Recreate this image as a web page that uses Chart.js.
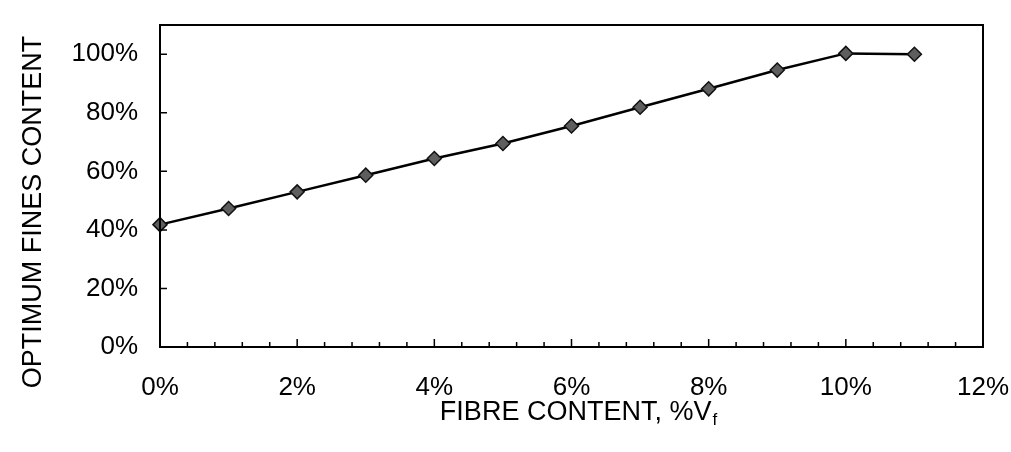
<!DOCTYPE html>
<html>
<head>
<meta charset="utf-8">
<script src="https://cdn.jsdelivr.net/npm/chart.js@4"></script>
<style>
  html, body { margin: 0; padding: 0; background: #fff; }
  #wrap { width: 1011px; height: 452px; position: relative; }
</style>
</head>
<body>
<div id="wrap"><canvas id="finesChart"></canvas></div>
<script>
// fibre content (% Vf) and optimum fines content (%)
const fibreContent = [0, 1, 2, 3, 4, 5, 6, 7, 8, 9, 10, 11];
const finesContent = [41.8, 47.3, 53.0, 58.7, 64.4, 69.5, 75.5, 81.9, 88.2, 94.6, 100.3, 100.0];
const yTicks = [0, 20, 40, 60, 80, 100];
const xTicks = [0, 2, 4, 6, 8, 10, 12];

const FONT = "'Liberation Sans', Arial, sans-serif";

function noEdgePadding(scale) {
  scale.paddingTop = 0;
  scale.paddingBottom = 0;
  scale.paddingLeft = 0;
  scale.paddingRight = 0;
}

// box round the plot, inward tick marks and both axis titles
const frameAndTicks = {
  id: "frameAndTicks",
  afterDraw(chart) {
    const ctx = chart.ctx;
    const area = chart.chartArea;
    const x = chart.scales.x;
    const y = chart.scales.y;
    ctx.save();
    ctx.strokeStyle = "#000";
    ctx.lineWidth = 2;
    ctx.strokeRect(area.left, area.top, area.right - area.left, area.bottom - area.top);

    ctx.lineWidth = 1.5;
    ctx.beginPath();
    for (let i = 0; i <= 30; i++) {
      const v = i * 0.4;
      const px = x.getPixelForValue(v);
      const len = i % 5 === 0 ? 8 : 5;
      ctx.moveTo(px, area.bottom);
      ctx.lineTo(px, area.bottom - len);
    }
    yTicks.forEach((v) => {
      const py = y.getPixelForValue(v);
      ctx.moveTo(area.left, py);
      ctx.lineTo(area.left + 7, py);
    });
    ctx.stroke();

    ctx.fillStyle = "#000";

    // y axis title
    ctx.save();
    ctx.translate(34, 212);
    ctx.rotate(-Math.PI / 2);
    ctx.font = "27px " + FONT;
    ctx.textAlign = "center";
    ctx.textBaseline = "middle";
    ctx.fillText("OPTIMUM FINES CONTENT", 0, 0);
    ctx.restore();

    // x axis title with subscript f
    ctx.textBaseline = "alphabetic";
    ctx.textAlign = "left";
    const main = "FIBRE CONTENT, %V";
    const sub = "f";
    ctx.font = "27px " + FONT;
    const w1 = ctx.measureText(main).width;
    ctx.font = "17px " + FONT;
    const w2 = ctx.measureText(sub).width;
    const startX = 578 - (w1 + w2) / 2;
    ctx.font = "27px " + FONT;
    ctx.fillText(main, startX, 420);
    ctx.font = "17px " + FONT;
    ctx.fillText(sub, startX + w1 + 1, 425);
    ctx.restore();
  },
};

const ctx = document.getElementById("finesChart").getContext("2d");
new Chart(ctx, {
  type: "line",
  data: {
    datasets: [
      {
        label: "Optimum fines content",
        data: fibreContent.map((f, i) => ({ x: f, y: finesContent[i] })),
        borderColor: "#000",
        borderWidth: 2.5,
        backgroundColor: "#5e5e5e",
        pointStyle: "rectRot",
        pointRadius: 7,
        pointBorderColor: "#111",
        pointBorderWidth: 1.5,
        pointBackgroundColor: "#5e5e5e",
        tension: 0,
        clip: false,
      },
    ],
  },
  options: {
    responsive: true,
    maintainAspectRatio: false,
    animation: false,
    layout: {
      padding: { left: 0, top: 25, right: 28, bottom: 0 },
    },
    plugins: {
      legend: { display: false },
      tooltip: { enabled: false },
    },
    scales: {
      x: {
        type: "linear",
        min: 0,
        max: 12,
        afterBuildTicks: (scale) => {
          scale.ticks = xTicks.map((v) => ({ value: v }));
        },
        afterFit: (scale) => {
          scale.height = 105;
          noEdgePadding(scale);
        },
        grid: { display: false, drawTicks: false },
        border: { display: false },
        ticks: {
          padding: 25,
          color: "#000",
          font: { size: 26, family: FONT },
          maxRotation: 0,
          callback: (v) => v + "%",
        },
      },
      y: {
        min: 0,
        max: 110,
        afterBuildTicks: (scale) => {
          scale.ticks = yTicks.map((v) => ({ value: v }));
        },
        afterFit: (scale) => {
          scale.width = 160;
          noEdgePadding(scale);
        },
        grid: { display: false, drawTicks: false },
        border: { display: false },
        ticks: {
          padding: 22,
          color: "#000",
          font: { size: 26, family: FONT },
          callback: (v) => v + "%",
        },
      },
    },
  },
  plugins: [frameAndTicks],
});
</script>
</body>
</html>
